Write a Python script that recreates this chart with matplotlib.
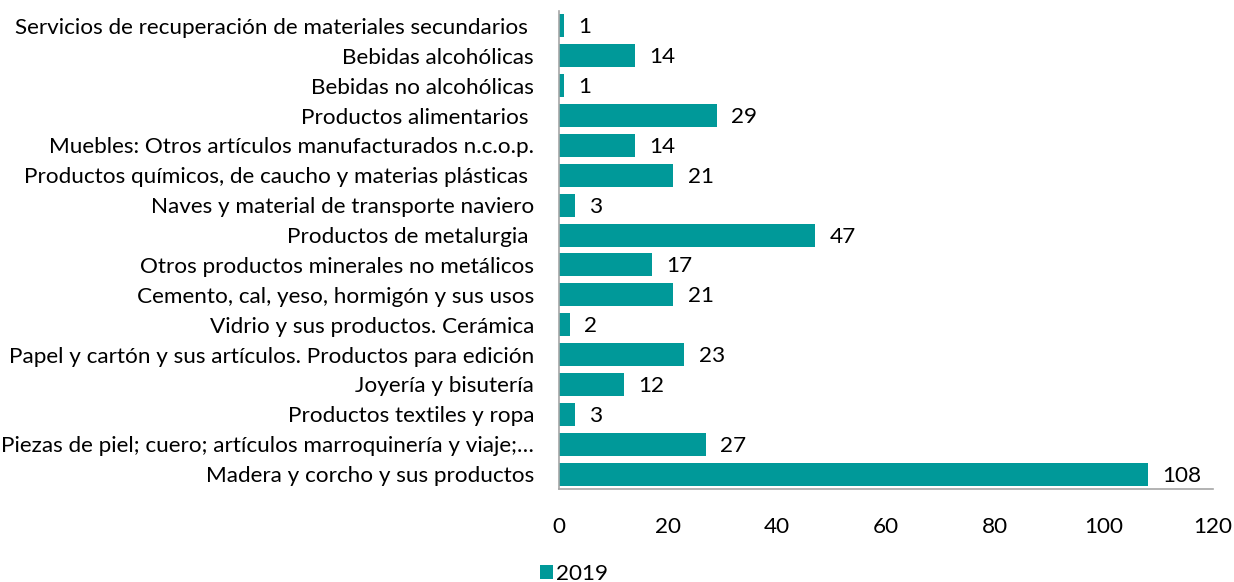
import matplotlib
matplotlib.use("Agg")
import matplotlib.pyplot as plt

categories = [
    "Servicios de recuperación de materiales secundarios ",
    "Bebidas alcohólicas",
    "Bebidas no alcohólicas",
    "Productos alimentarios ",
    "Muebles: Otros artículos manufacturados n.c.o.p.",
    "Productos químicos, de caucho y materias plásticas ",
    "Naves y material de transporte naviero",
    "Productos de metalurgia ",
    "Otros productos minerales no metálicos",
    "Cemento, cal, yeso, hormigón y sus usos",
    "Vidrio y sus productos. Cerámica",
    "Papel y cartón y sus artículos. Productos para edición",
    "Joyería y bisutería",
    "Productos textiles y ropa",
    "Piezas de piel; cuero; artículos marroquinería y viaje;…",
    "Madera y corcho y sus productos",
]
values_2019 = [1, 14, 1, 29, 14, 21, 3, 47, 17, 21, 2, 23, 12, 3, 27, 108]
x_ticks = [0, 20, 40, 60, 80, 100, 120]
series_name = "2019"

plt.rcParams['font.family'] = ['Lato', 'DejaVu Sans']
color = "#009999"
fs = 16.2

fig = plt.figure(figsize=(12.34, 5.82), dpi=100)
ax = fig.add_axes([559/1234, 1-489/582, (1213-559)/1234, (489-11)/582])

ypos = list(range(len(categories)))
bars = ax.barh(ypos, values_2019, height=0.77, color=color, label=series_name)
ax.set_ylim(len(categories)-0.5, -0.5)
ax.set_xlim(0, 120)
ax.set_yticks(ypos)
ax.set_yticklabels(categories, fontsize=fs)
ax.set_xticks(x_ticks)
ax.set_xticklabels([str(t) for t in x_ticks], fontsize=fs)
ax.tick_params(axis='y', length=0, pad=18)
ax.tick_params(axis='x', length=0, pad=20)
for s in ['top', 'right']:
    ax.spines[s].set_visible(False)
for s in ['left', 'bottom']:
    ax.spines[s].set_color('#a6a6a6')
    ax.spines[s].set_linewidth(1.2)

for b, v in zip(bars, values_2019):
    ax.text(b.get_width() + 2.6, b.get_y() + b.get_height()/2 + 0.05, str(v),
            va='center', ha='left', fontsize=fs)

fig.legend(handles=[bars], labels=[series_name], loc='center',
           bbox_to_anchor=(574/1234, 1-574/582), frameon=False, fontsize=fs,
           handlelength=0.6, handleheight=0.6, handletextpad=0.15)

fig.savefig("out.png", dpi=100)
